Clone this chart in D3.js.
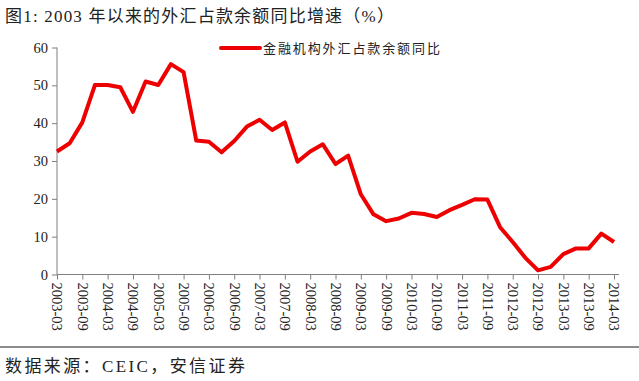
<!DOCTYPE html>
<html>
<head>
<meta charset="utf-8">
<script src="https://cdn.jsdelivr.net/npm/d3@7"></script>
<style>
  body { margin: 0; background: #fff; }
  text { font-family: 'Liberation Serif', 'Noto Sans CJK SC', serif; fill: #222; }
  .cjk { font-family: 'Liberation Serif', 'Noto Sans CJK SC', sans-serif; }
</style>
</head>
<body>
<svg id="chart" width="639" height="381"></svg>
<script>
/* quarterly categories 2003-03 .. 2014-03 */
const quarters = []
for (let y = 2003; y <= 2014; y++) {
  for (const m of ['03', '06', '09', '12']) {
    if (y === 2014 && m !== '03') continue
    quarters.push(y + '-' + m)
  }
}

/* yoy growth of FX reserves position (%) */
const fxYoy = [
  32.5, 34.7, 40.2, 50.1, 50.1, 49.5, 43.0, 51.0, 50.1, 55.6, 53.5, 35.4,
  35.1, 32.3, 35.3, 39.1, 40.9, 38.2, 40.2, 29.8, 32.5, 34.4, 29.2, 31.4,
  21.2, 15.9, 14.1, 14.8, 16.3, 16.0, 15.2, 17.0, 18.4, 19.9, 19.8, 12.5,
  8.6, 4.4, 1.1, 2.0, 5.4, 6.9, 6.9, 10.8, 8.6
]

/* labelled ticks (every 6 months) */
const tickLabels = quarters.filter((q) => q.endsWith('-03') || q.endsWith('-09'))
const yTicks = [0, 10, 20, 30, 40, 50, 60]

const titleText = '图1:  2003 年以来的外汇占款余额同比增速（%）'
const legendText = '金融机构外汇占款余额同比'
const sourceText = '数据来源：CEIC，安信证券'

const svg = d3.select('#chart')
const axisColor = '#7f7f7f'
const lineColor = '#ee0000'

/* scales */
const xScale = d3.scalePoint().domain(quarters).range([57, 614])
const yScale = d3.scaleLinear().domain([0, 60]).range([274.5, 47.5])

/* title */
svg.append('text')
  .attr('class', 'cjk')
  .attr('x', 5)
  .attr('y', 22)
  .style('font-size', '17px')
  .style('letter-spacing', '1.2px')
  .text(titleText)

/* y axis */
const yAxis = d3.axisLeft(yScale).tickValues(yTicks).tickSize(5).tickPadding(4)
svg.append('g')
  .attr('transform', 'translate(57,0)')
  .call(yAxis)
  .call((g) => g.selectAll('line, path').attr('stroke', axisColor))
  .call((g) => g.select('.domain').attr('d', `M0,${yScale(60)}V${yScale(0)}`))
  .call((g) => g.selectAll('text')
    .style('font-family', "'Liberation Serif', serif")
    .style('font-size', '14.5px').attr('fill', '#222'))

/* x axis */
const xAxis = d3.axisBottom(xScale).tickValues(tickLabels).tickSize(5).tickSizeOuter(0)
svg.append('g')
  .attr('transform', `translate(0,${yScale(0)})`)
  .call(xAxis)
  .call((g) => g.selectAll('line, path').attr('stroke', axisColor))
  .call((g) => g.select('.domain').attr('d', 'M57,0H619'))
  .call((g) => g.selectAll('text')
    .style('font-family', "'Liberation Serif', serif")
    .style('font-size', '14.5px')
    .attr('fill', '#222')
    .attr('text-anchor', 'start')
    .attr('transform', 'rotate(90)')
    .attr('x', 8)
    .attr('y', 0)
    .attr('dy', '0.35em'))

/* line */
const line = d3.line()
  .x((d, i) => xScale(quarters[i]))
  .y((d) => yScale(d))

svg.append('path')
  .datum(fxYoy)
  .attr('d', line)
  .attr('fill', 'none')
  .attr('stroke', lineColor)
  .attr('stroke-width', 4)
  .attr('stroke-linejoin', 'round')

/* legend */
svg.append('line')
  .attr('x1', 221).attr('x2', 260)
  .attr('y1', 48).attr('y2', 48)
  .attr('stroke', lineColor)
  .attr('stroke-width', 4)
  .attr('stroke-linecap', 'round')
svg.append('text')
  .attr('class', 'cjk')
  .attr('x', 263)
  .attr('y', 53)
  .style('font-size', '13px')
  .style('letter-spacing', '1.9px')
  .text(legendText)

/* source footer */
svg.append('line')
  .attr('x1', 0).attr('x2', 639)
  .attr('y1', 347).attr('y2', 347)
  .attr('stroke', '#666')
  .attr('stroke-width', 1.5)
svg.append('text')
  .attr('class', 'cjk')
  .attr('x', 5)
  .attr('y', 372)
  .style('font-size', '17px')
  .style('letter-spacing', '2.4px')
  .text(sourceText)
</script>
</body>
</html>
